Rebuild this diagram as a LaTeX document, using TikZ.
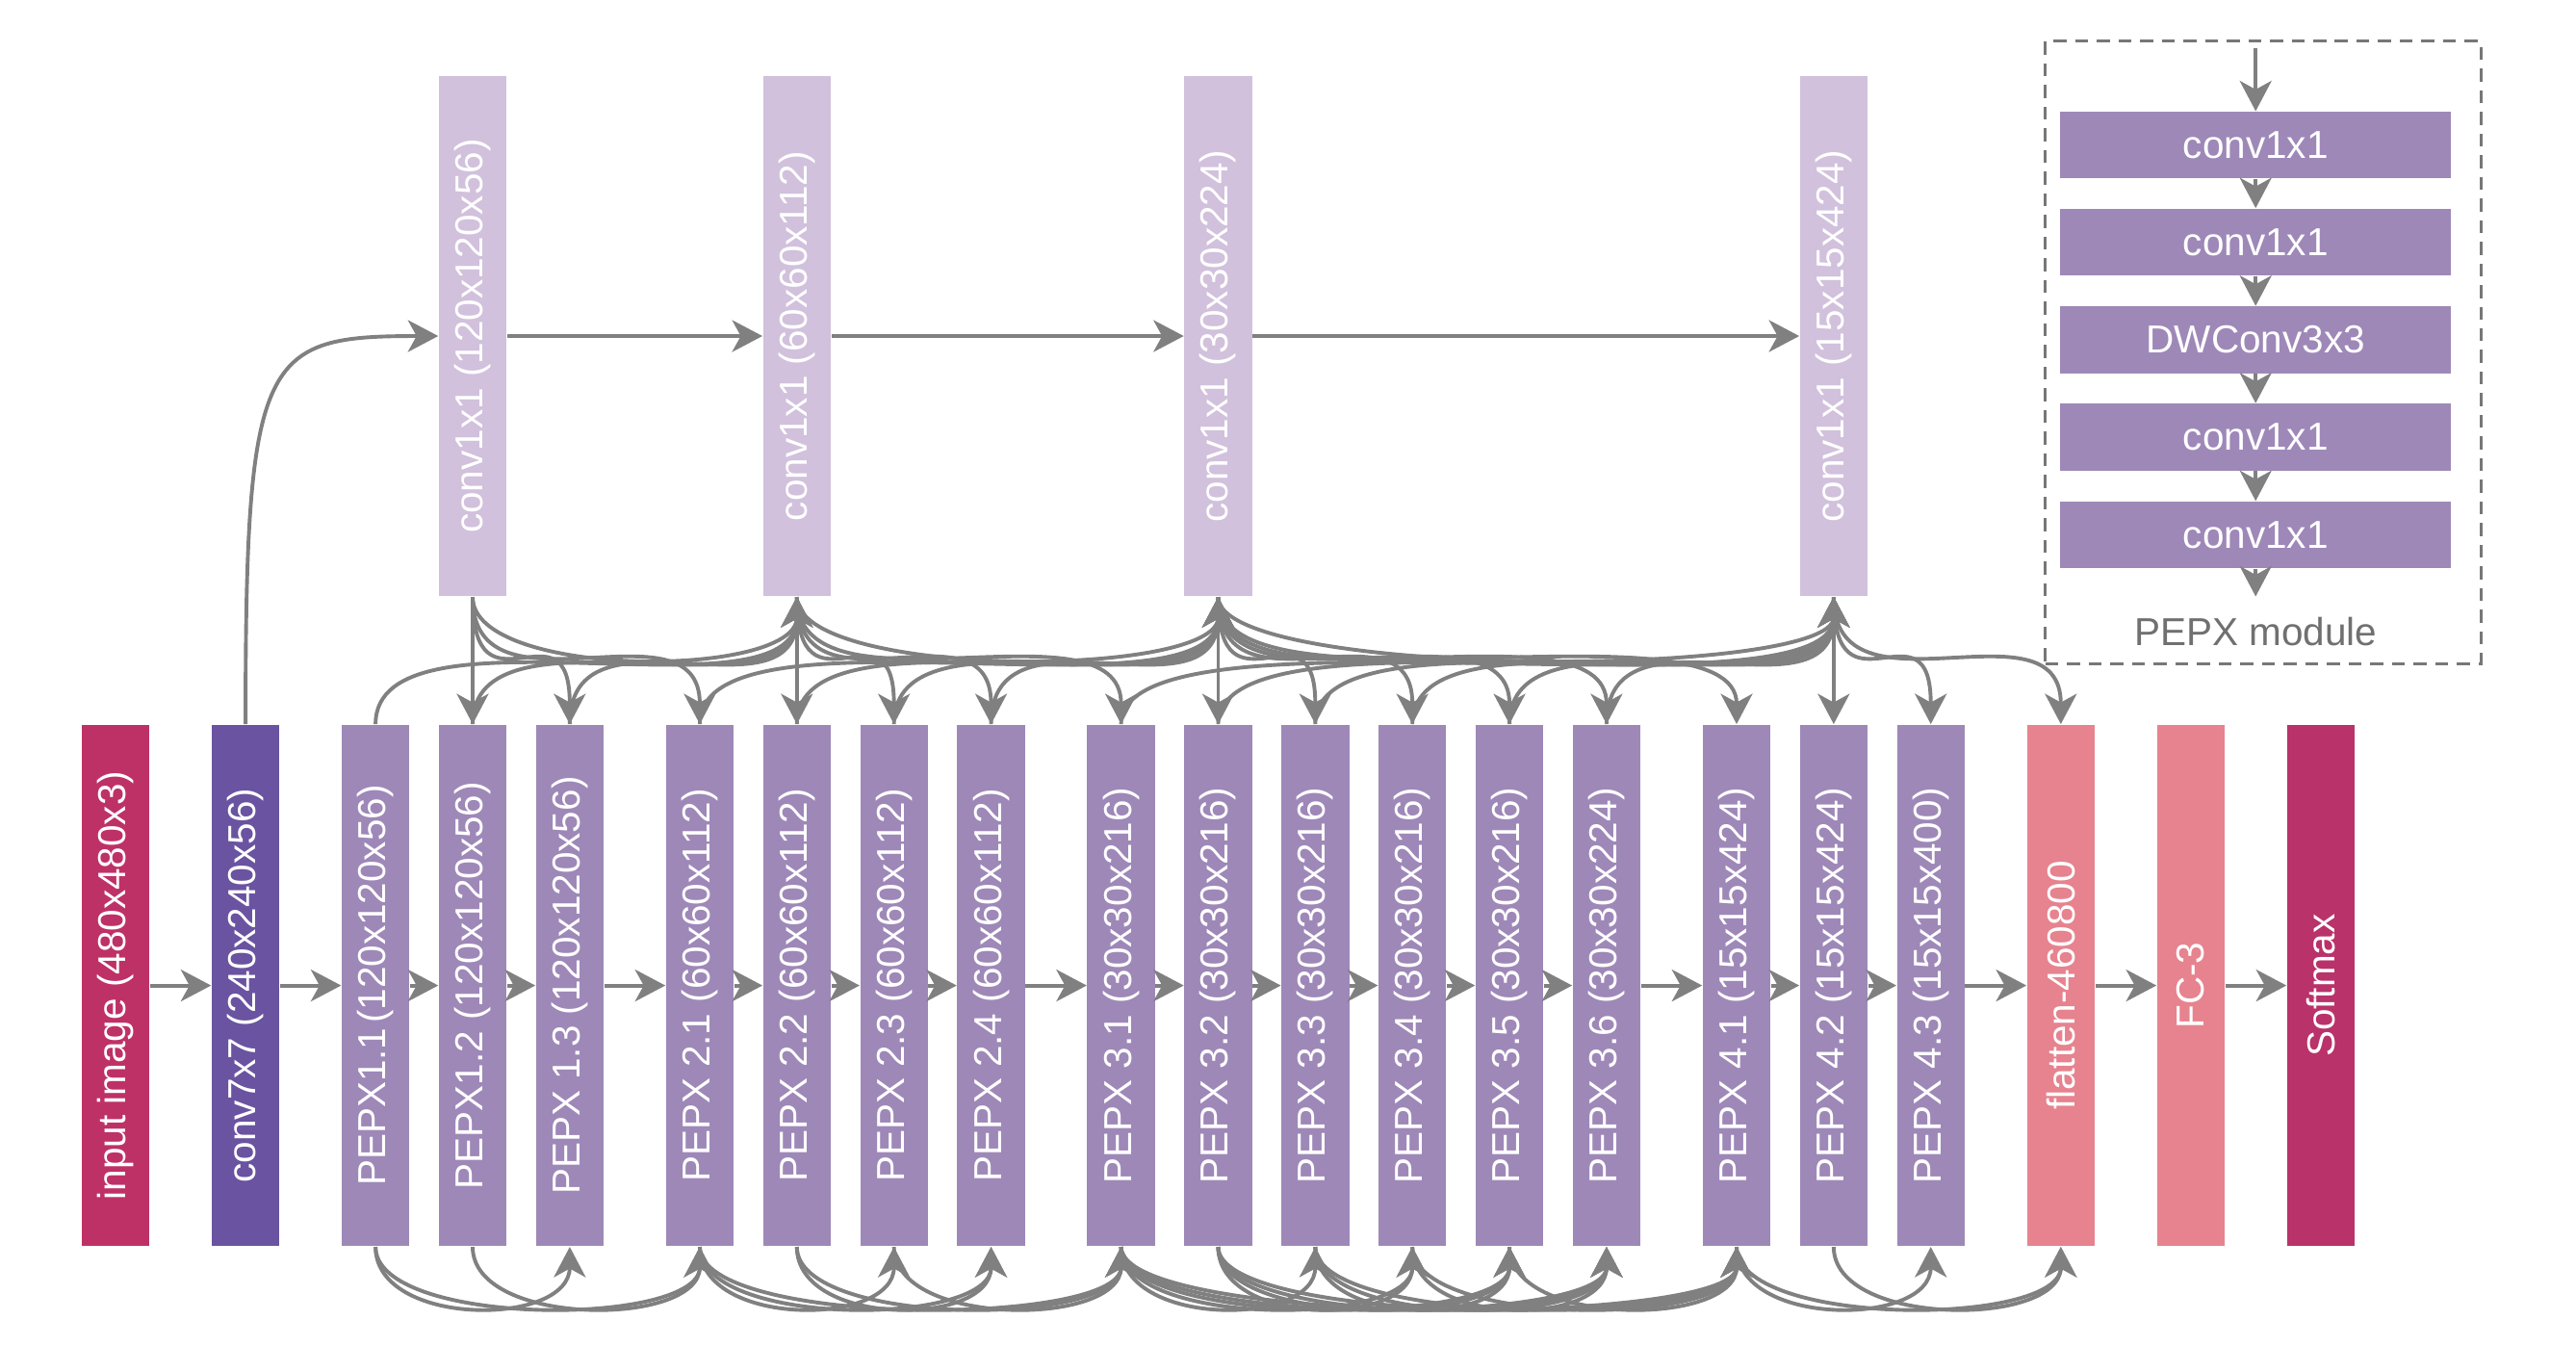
\documentclass[tikz,border=0pt]{standalone}
\usepackage{fontspec}
\setmainfont{Liberation Sans}
\usepackage{graphicx}
\usetikzlibrary{arrows.meta}
\definecolor{cinput}{HTML}{BE3167}
\definecolor{csoft}{HTML}{B9326A}
\definecolor{cconv}{HTML}{6A53A0}
\definecolor{cpepx}{HTML}{9E88B8}
\definecolor{ctop}{HTML}{D1C1DC}
\definecolor{cpink}{HTML}{E6838F}
\definecolor{cline}{HTML}{808080}
\definecolor{cdash}{HTML}{777777}
\definecolor{clabel}{HTML}{707070}
\begin{document}
\begin{tikzpicture}[x=0.02cm,y=-0.02cm,
  lay/.style={inner sep=0pt, minimum width=0.824cm, minimum height=6.35cm, text=white,
     font=\fontsize{13.5}{16}\selectfont},
  toplay/.style={lay, fill=ctop, minimum height=6.34cm},
  pepx/.style={lay, fill=cpepx},
  modbox/.style={inner sep=0pt, minimum width=4.76cm, minimum height=0.812cm, fill=cpepx,
     text=white, font=\fontsize{13.5}{16}\selectfont},
  arr/.style={draw=cline, line width=1.3pt, -{Stealth[length=10.5pt,width=11pt,inset=3pt]}},
  frame/.style={draw=cdash, line width=1pt, dash pattern=on 4.5pt off 3pt, inner sep=0pt}
]
\fill[white] (0,0) rectangle (1568,819);
\useasboundingbox (0,0) rectangle (1568,819);

% bottom row
\node[lay, fill=cinput] (inp) at (70.3,599.75) {\rotatebox{90}{input image (480x480x3)}};
\node[lay, fill=cconv] (conv) at (149.45,599.75) {\rotatebox{90}{conv7x7 (240x240x56)}};
\node[pepx] (P11) at (228.6,599.75) {\rotatebox{90}{PEPX1.1\hspace{0.12em}(120x120x56)}};
\node[pepx] (P12) at (287.7,599.75) {\rotatebox{90}{PEPX1.2 (120x120x56)}};
\node[pepx] (P13) at (346.8,599.75) {\rotatebox{90}{PEPX 1.3 (120x120x56)}};
\node[pepx] (P21) at (425.95,599.75) {\rotatebox{90}{PEPX 2.1 (60x60x112)}};
\node[pepx] (P22) at (485.05,599.75) {\rotatebox{90}{PEPX 2.2 (60x60x112)}};
\node[pepx] (P23) at (544.15,599.75) {\rotatebox{90}{PEPX 2.3 (60x60x112)}};
\node[pepx] (P24) at (603.25,599.75) {\rotatebox{90}{PEPX 2.4 (60x60x112)}};
\node[pepx] (P31) at (682.4,599.75) {\rotatebox{90}{PEPX 3.1 (30x30x216)}};
\node[pepx] (P32) at (741.5,599.75) {\rotatebox{90}{PEPX 3.2 (30x30x216)}};
\node[pepx] (P33) at (800.6,599.75) {\rotatebox{90}{PEPX 3.3 (30x30x216)}};
\node[pepx] (P34) at (859.7,599.75) {\rotatebox{90}{PEPX 3.4 (30x30x216)}};
\node[pepx] (P35) at (918.8,599.75) {\rotatebox{90}{PEPX 3.5 (30x30x216)}};
\node[pepx] (P36) at (977.9,599.75) {\rotatebox{90}{PEPX 3.6 (30x30x224)}};
\node[pepx] (P41) at (1057.05,599.75) {\rotatebox{90}{PEPX 4.1 (15x15x424)}};
\node[pepx] (P42) at (1116.15,599.75) {\rotatebox{90}{PEPX 4.2 (15x15x424)}};
\node[pepx] (P43) at (1175.25,599.75) {\rotatebox{90}{PEPX 4.3 (15x15x400)}};
\node[lay, fill=cpink] (flat) at (1254.4,599.75) {\rotatebox{90}{flatten-460800}};
\node[lay, fill=cpink] (fc) at (1333.55,599.75) {\rotatebox{90}{FC-3}};
\node[lay, fill=csoft] (soft) at (1412.7,599.75) {\rotatebox{90}{Softmax}};

% top row
\node[toplay] (T1) at (287.7,204.5) {\rotatebox{90}{conv1x1 (120x120x56)}};
\node[toplay] (T2) at (485.05,204.5) {\rotatebox{90}{conv1x1 (60x60x112)}};
\node[toplay] (T3) at (741.5,204.5) {\rotatebox{90}{conv1x1 (30x30x224)}};
\node[toplay] (T4) at (1116.15,204.5) {\rotatebox{90}{conv1x1 (15x15x424)}};

% sequential arrows
\foreach \a/\b in {inp/conv, conv/P11, P11/P12, P12/P13, P13/P21, P21/P22, P22/P23, P23/P24,
  P24/P31, P31/P32, P32/P33, P33/P34, P34/P35, P35/P36, P36/P41, P41/P42, P42/P43,
  P43/flat, flat/fc, fc/soft, T1/T2, T2/T3, T3/T4}
  \draw[arr] (\a.east) -- (\b.west);

% conv7x7 to first conv1x1
\draw[arr] (conv.north) .. controls +(0,-226) and +(-107,0) .. (T1.west);

% top straight
\foreach \a/\b in {T1/P12, T2/P22, T3/P32, T4/P42}
  \draw[arr] (\a.south) -- (\b.north);

% top to pepx
\foreach \a/\b in {T1/P13, T1/P21, T2/P23, T2/P24, T2/P31, T3/P33, T3/P34, T3/P35, T3/P36,
  T3/P41, T4/P43, T4/flat}
  \draw[arr] (\a.south) .. controls +(0,78) and +(0,-78) .. (\b.north);

% pepx to next conv1x1
\foreach \a/\b in {P11/T2, P12/T2, P13/T2, P21/T3, P22/T3, P23/T3, P24/T3,
  P31/T4, P32/T4, P33/T4, P34/T4, P35/T4, P36/T4}
  \draw[arr] (\a.north) .. controls +(0,-78) and +(0,78) .. (\b.south);

% conv1x1 to next conv1x1 (below)
\foreach \a/\b in {T1/T2, T2/T3, T3/T4}
  \draw[arr] (\a.south) .. controls +(0,50) and +(0,50) .. (\b.south);

% bottom skip connections
\foreach \a/\b in {P11/P13, P11/P21, P12/P21,
  P21/P23, P21/P24, P22/P24, P21/P31, P22/P31, P23/P31,
  P31/P33, P31/P34, P31/P35, P31/P36, P32/P34, P32/P35, P32/P36, P33/P35, P33/P36, P34/P36,
  P31/P41, P32/P41, P33/P41, P34/P41, P35/P41,
  P41/P43, P41/flat, P42/flat}
  \draw[arr] (\a.south) .. controls +(0,49) and +(0,49) .. (\b.south);

% PEPX module legend
\node[frame, minimum width=5.3cm, minimum height=7.58cm] (frm) at (1377.5,214.5) {};
\node[modbox] (m1) at (1373,88.3) {conv1x1};
\node[modbox] (m2) at (1373,147.3) {conv1x1};
\node[modbox] (m3) at (1373,206.8) {DWConv3x3};
\node[modbox] (m4) at (1373,266) {conv1x1};
\node[modbox] (m5) at (1373,325.5) {conv1x1};
\coordinate (min) at (1373,29);
\coordinate (mout) at (1373,363);
\draw[arr] (min) -- (m1.north);
\draw[arr] (m1.south) -- (m2.north);
\draw[arr] (m2.south) -- (m3.north);
\draw[arr] (m3.south) -- (m4.north);
\draw[arr] (m4.south) -- (m5.north);
\draw[arr] (m5.south) -- (mout);
\node[text=clabel, font=\fontsize{13.5}{16}\selectfont] (mlab) at (1373,384.5) {PEPX module};
\end{tikzpicture}
\end{document}
